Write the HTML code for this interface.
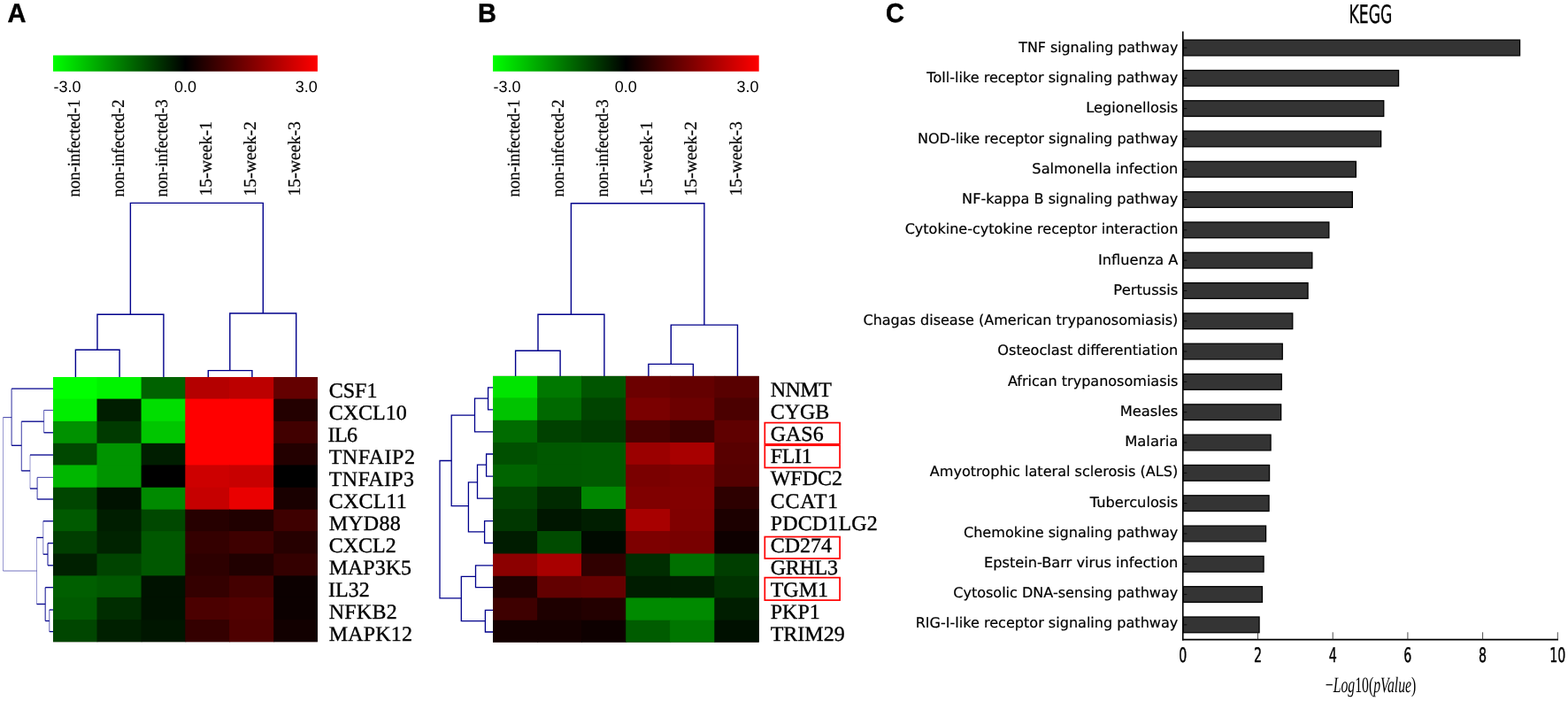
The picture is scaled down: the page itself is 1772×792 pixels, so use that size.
<!DOCTYPE html>
<html lang="en"><head><meta charset="utf-8"><title>Figure</title>
<style>
html,body{margin:0;padding:0;background:#fff;}
body{width:1772px;height:792px;overflow:hidden;}
svg{display:block;}
text{fill:#000;text-rendering:geometricPrecision;}
.pl{font-family:"Liberation Sans",Arial,sans-serif;font-weight:bold;font-size:29px;stroke:#000;stroke-width:0.4px;}
.cb{font-family:"Liberation Sans",Arial,sans-serif;font-size:18px;}
.cl{font-family:"Liberation Serif","Times New Roman",serif;font-size:19px;stroke:#000;stroke-width:0.2px;}
.gl{font-family:"Liberation Serif","Times New Roman",serif;font-size:24px;stroke:#000;stroke-width:0.35px;}
.yl{font-family:"DejaVu Sans","Liberation Sans",sans-serif;font-size:16px;text-anchor:end;stroke:#000;stroke-width:0.2px;}
.xt{font-family:"DejaVu Sans","Liberation Sans",sans-serif;font-size:22.6px;text-anchor:middle;stroke:#000;stroke-width:0.5px;}
.tt{font-family:"DejaVu Sans","Liberation Sans",sans-serif;font-size:28.4px;text-anchor:middle;stroke:#000;stroke-width:0.35px;}
.xl{font-family:"Liberation Serif","Times New Roman",serif;font-style:normal;font-size:25px;text-anchor:middle;}
</style></head><body>
<svg width="1772" height="792" viewBox="0 0 1772 792">
<defs><linearGradient id="gr" x1="0" y1="0" x2="1" y2="0"><stop offset="0" stop-color="#00ff00"/><stop offset="0.5" stop-color="#000"/><stop offset="1" stop-color="#ff0000"/></linearGradient></defs>
<rect x="0" y="0" width="1772" height="792" fill="#fff"/>
<g class="panel">
<text transform="translate(8.5 25.1) scale(1 1.045)" class="pl">A</text>
<rect x="60" y="62.5" width="298.90" height="18.2" fill="url(#gr)"/>
<text x="60.6" y="103.9" class="cb">-3.0</text>
<text x="209.45" y="103.9" class="cb" text-anchor="middle">0.0</text>
<text x="358.7" y="103.9" class="cb" text-anchor="end">3.0</text>
<text transform="translate(89.81 222.6) rotate(-90) scale(0.986 1.05)" class="cl">non-infected-1</text>
<text transform="translate(139.62 222.6) rotate(-90) scale(0.986 1.05)" class="cl">non-infected-2</text>
<text transform="translate(189.44 222.6) rotate(-90) scale(0.986 1.05)" class="cl">non-infected-3</text>
<text transform="translate(239.26 221.6) rotate(-90) scale(1.04 1.05)" class="cl">15-week-1</text>
<text transform="translate(289.07 221.6) rotate(-90) scale(1.04 1.05)" class="cl">15-week-2</text>
<text transform="translate(338.89 221.6) rotate(-90) scale(1.04 1.05)" class="cl">15-week-3</text>
<path d="M85.4 426V395.2H135.1V426 M110 395.2V355.2H184.9V426 M147.4 355.2V229.4H297.3V354 M259.8 418.6V354H334.7V426 M235.3 426V418.6H284.9V426" fill="none" stroke="#00008b" stroke-width="1.4" stroke-opacity="1"/>
<path d="M3.5 471.6V645" fill="none" stroke="#00008b" stroke-width="1.0" stroke-opacity="0.4"/>
<path d="M3.5 471.6H13.1" fill="none" stroke="#00008b" stroke-width="1.1" stroke-opacity="0.7"/>
<path d="M3.5 645H41.5" fill="none" stroke="#00008b" stroke-width="1.1" stroke-opacity="0.55"/>
<path d="M13.1 439.2V503.3" fill="none" stroke="#00008b" stroke-width="1.1" stroke-opacity="0.75"/>
<path d="M13.1 439.2H60" fill="none" stroke="#00008b" stroke-width="1.3" stroke-opacity="1"/>
<path d="M13.1 503.3H24.3" fill="none" stroke="#00008b" stroke-width="1.3" stroke-opacity="1"/>
<path d="M24.3 476.2V531.9" fill="none" stroke="#00008b" stroke-width="1.1" stroke-opacity="0.7"/>
<path d="M24.3 476.2H49.6" fill="none" stroke="#00008b" stroke-width="1.3" stroke-opacity="1"/>
<path d="M24.3 531.9H34" fill="none" stroke="#00008b" stroke-width="1.3" stroke-opacity="1"/>
<path d="M49.6 463.5V488.8" fill="none" stroke="#00008b" stroke-width="1.0" stroke-opacity="0.6"/>
<path d="M49.6 463.5H60" fill="none" stroke="#00008b" stroke-width="1.1" stroke-opacity="0.7"/>
<path d="M49.6 488.8H60" fill="none" stroke="#00008b" stroke-width="1.3" stroke-opacity="1"/>
<path d="M34 514V552" fill="none" stroke="#00008b" stroke-width="1.0" stroke-opacity="0.4"/>
<path d="M34 514H60" fill="none" stroke="#00008b" stroke-width="1.3" stroke-opacity="1"/>
<path d="M34 552H42.1" fill="none" stroke="#00008b" stroke-width="1.3" stroke-opacity="1"/>
<path d="M42.1 539.4V564" fill="none" stroke="#00008b" stroke-width="1.1" stroke-opacity="0.7"/>
<path d="M42.1 539.4H60" fill="none" stroke="#00008b" stroke-width="1.1" stroke-opacity="0.7"/>
<path d="M42.1 564H60" fill="none" stroke="#00008b" stroke-width="1.3" stroke-opacity="1"/>
<path d="M41.5 607.4V682.5" fill="none" stroke="#00008b" stroke-width="1.0" stroke-opacity="0.4"/>
<path d="M41.5 607.4H48.8" fill="none" stroke="#00008b" stroke-width="1.3" stroke-opacity="1"/>
<path d="M41.5 682.5H51.2" fill="none" stroke="#00008b" stroke-width="1.3" stroke-opacity="1"/>
<path d="M48.8 588.8V626.2" fill="none" stroke="#00008b" stroke-width="1.0" stroke-opacity="0.5"/>
<path d="M48.8 588.8H60" fill="none" stroke="#00008b" stroke-width="1.3" stroke-opacity="1"/>
<path d="M48.8 626.2H54" fill="none" stroke="#00008b" stroke-width="1.3" stroke-opacity="1"/>
<path d="M54 613.7V638.8" fill="none" stroke="#00008b" stroke-width="1.2" stroke-opacity="0.8"/>
<path d="M54 613.7H60" fill="none" stroke="#00008b" stroke-width="1.3" stroke-opacity="1"/>
<path d="M54 638.8H60" fill="none" stroke="#00008b" stroke-width="1.3" stroke-opacity="1"/>
<path d="M51.2 663.7V701.5" fill="none" stroke="#00008b" stroke-width="1.2" stroke-opacity="0.8"/>
<path d="M51.2 663.7H60" fill="none" stroke="#00008b" stroke-width="1.3" stroke-opacity="1"/>
<path d="M51.2 701.5H55.8" fill="none" stroke="#00008b" stroke-width="1.3" stroke-opacity="1"/>
<path d="M55.8 689V713.6" fill="none" stroke="#00008b" stroke-width="1.0" stroke-opacity="0.6"/>
<path d="M55.8 689H60" fill="none" stroke="#00008b" stroke-width="1.3" stroke-opacity="1"/>
<path d="M55.8 713.6H60" fill="none" stroke="#00008b" stroke-width="1.3" stroke-opacity="1"/>
<rect x="60.00" y="426.00" width="298.90" height="299.20" fill="#200"/>
<rect x="60.00" y="426.00" width="50.50" height="25.60" fill="rgb(0,255,0)"/>
<rect x="109.50" y="426.00" width="51.10" height="25.60" fill="rgb(0,243,0)"/>
<rect x="159.60" y="426.00" width="50.70" height="25.60" fill="rgb(0,98,0)"/>
<rect x="209.30" y="426.00" width="50.80" height="25.60" fill="rgb(180,0,0)"/>
<rect x="259.10" y="426.00" width="51.10" height="25.60" fill="rgb(188,0,0)"/>
<rect x="309.20" y="426.00" width="49.70" height="25.60" fill="rgb(100,0,0)"/>
<rect x="60.00" y="450.60" width="50.50" height="26.30" fill="rgb(0,238,0)"/>
<rect x="109.50" y="450.60" width="51.10" height="26.30" fill="rgb(0,30,0)"/>
<rect x="159.60" y="450.60" width="50.70" height="26.30" fill="rgb(0,222,0)"/>
<rect x="209.30" y="450.60" width="50.80" height="26.30" fill="rgb(255,0,0)"/>
<rect x="259.10" y="450.60" width="51.10" height="26.30" fill="rgb(255,0,0)"/>
<rect x="309.20" y="450.60" width="49.70" height="26.30" fill="rgb(35,0,0)"/>
<rect x="60.00" y="475.90" width="50.50" height="25.90" fill="rgb(0,145,0)"/>
<rect x="109.50" y="475.90" width="51.10" height="25.90" fill="rgb(0,58,0)"/>
<rect x="159.60" y="475.90" width="50.70" height="25.90" fill="rgb(0,198,0)"/>
<rect x="209.30" y="475.90" width="50.80" height="25.90" fill="rgb(255,0,0)"/>
<rect x="259.10" y="475.90" width="51.10" height="25.90" fill="rgb(255,0,0)"/>
<rect x="309.20" y="475.90" width="49.70" height="25.90" fill="rgb(65,0,0)"/>
<rect x="60.00" y="500.80" width="50.50" height="25.60" fill="rgb(0,72,0)"/>
<rect x="109.50" y="500.80" width="51.10" height="25.60" fill="rgb(0,148,0)"/>
<rect x="159.60" y="500.80" width="50.70" height="25.60" fill="rgb(0,30,0)"/>
<rect x="209.30" y="500.80" width="50.80" height="25.60" fill="rgb(255,0,0)"/>
<rect x="259.10" y="500.80" width="51.10" height="25.60" fill="rgb(255,0,0)"/>
<rect x="309.20" y="500.80" width="49.70" height="25.60" fill="rgb(35,0,0)"/>
<rect x="60.00" y="525.40" width="50.50" height="26.30" fill="rgb(0,183,0)"/>
<rect x="109.50" y="525.40" width="51.10" height="26.30" fill="rgb(0,148,0)"/>
<rect x="159.60" y="525.40" width="50.70" height="26.30" fill="rgb(0,0,0)"/>
<rect x="209.30" y="525.40" width="50.80" height="26.30" fill="rgb(205,0,0)"/>
<rect x="259.10" y="525.40" width="51.10" height="26.30" fill="rgb(200,0,0)"/>
<rect x="309.20" y="525.40" width="49.70" height="26.30" fill="rgb(0,0,0)"/>
<rect x="60.00" y="550.70" width="50.50" height="25.90" fill="rgb(0,70,0)"/>
<rect x="109.50" y="550.70" width="51.10" height="25.90" fill="rgb(0,18,0)"/>
<rect x="159.60" y="550.70" width="50.70" height="25.90" fill="rgb(0,138,0)"/>
<rect x="209.30" y="550.70" width="50.80" height="25.90" fill="rgb(198,0,0)"/>
<rect x="259.10" y="550.70" width="51.10" height="25.90" fill="rgb(234,0,0)"/>
<rect x="309.20" y="550.70" width="49.70" height="25.90" fill="rgb(25,0,0)"/>
<rect x="60.00" y="575.60" width="50.50" height="25.50" fill="rgb(0,90,0)"/>
<rect x="109.50" y="575.60" width="51.10" height="25.50" fill="rgb(0,30,0)"/>
<rect x="159.60" y="575.60" width="50.70" height="25.50" fill="rgb(0,72,0)"/>
<rect x="209.30" y="575.60" width="50.80" height="25.50" fill="rgb(38,0,0)"/>
<rect x="259.10" y="575.60" width="51.10" height="25.50" fill="rgb(32,0,0)"/>
<rect x="309.20" y="575.60" width="49.70" height="25.50" fill="rgb(62,0,0)"/>
<rect x="60.00" y="600.10" width="50.50" height="26.40" fill="rgb(0,62,0)"/>
<rect x="109.50" y="600.10" width="51.10" height="26.40" fill="rgb(0,35,0)"/>
<rect x="159.60" y="600.10" width="50.70" height="26.40" fill="rgb(0,88,0)"/>
<rect x="209.30" y="600.10" width="50.80" height="26.40" fill="rgb(52,0,0)"/>
<rect x="259.10" y="600.10" width="51.10" height="26.40" fill="rgb(62,0,0)"/>
<rect x="309.20" y="600.10" width="49.70" height="26.40" fill="rgb(38,0,0)"/>
<rect x="60.00" y="625.50" width="50.50" height="25.90" fill="rgb(0,32,0)"/>
<rect x="109.50" y="625.50" width="51.10" height="25.90" fill="rgb(0,68,0)"/>
<rect x="159.60" y="625.50" width="50.70" height="25.90" fill="rgb(0,88,0)"/>
<rect x="209.30" y="625.50" width="50.80" height="25.90" fill="rgb(45,0,0)"/>
<rect x="259.10" y="625.50" width="51.10" height="25.90" fill="rgb(32,0,0)"/>
<rect x="309.20" y="625.50" width="49.70" height="25.90" fill="rgb(52,0,0)"/>
<rect x="60.00" y="650.40" width="50.50" height="25.50" fill="rgb(0,95,0)"/>
<rect x="109.50" y="650.40" width="51.10" height="25.50" fill="rgb(0,88,0)"/>
<rect x="159.60" y="650.40" width="50.70" height="25.50" fill="rgb(0,18,0)"/>
<rect x="209.30" y="650.40" width="50.80" height="25.50" fill="rgb(52,0,0)"/>
<rect x="259.10" y="650.40" width="51.10" height="25.50" fill="rgb(68,0,0)"/>
<rect x="309.20" y="650.40" width="49.70" height="25.50" fill="rgb(12,0,0)"/>
<rect x="60.00" y="674.90" width="50.50" height="26.20" fill="rgb(0,90,0)"/>
<rect x="109.50" y="674.90" width="51.10" height="26.20" fill="rgb(0,45,0)"/>
<rect x="159.60" y="674.90" width="50.70" height="26.20" fill="rgb(0,18,0)"/>
<rect x="209.30" y="674.90" width="50.80" height="26.20" fill="rgb(75,0,0)"/>
<rect x="259.10" y="674.90" width="51.10" height="26.20" fill="rgb(82,0,0)"/>
<rect x="309.20" y="674.90" width="49.70" height="26.20" fill="rgb(12,0,0)"/>
<rect x="60.00" y="700.10" width="50.50" height="25.10" fill="rgb(0,70,0)"/>
<rect x="109.50" y="700.10" width="51.10" height="25.10" fill="rgb(0,32,0)"/>
<rect x="159.60" y="700.10" width="50.70" height="25.10" fill="rgb(0,22,0)"/>
<rect x="209.30" y="700.10" width="50.80" height="25.10" fill="rgb(52,0,0)"/>
<rect x="259.10" y="700.10" width="51.10" height="25.10" fill="rgb(78,0,0)"/>
<rect x="309.20" y="700.10" width="49.70" height="25.10" fill="rgb(18,0,0)"/>
<text transform="translate(371.70 449.20) scale(1 0.99)" class="gl">CSF1</text>
<text transform="translate(371.70 474.13) scale(1 0.99)" class="gl">CXCL10</text>
<text transform="translate(370.40 499.07) scale(1 0.99)" class="gl" letter-spacing="-0.5">IL6</text>
<text transform="translate(371.70 524.00) scale(1 0.99)" class="gl" letter-spacing="0.5">TNFAIP2</text>
<text transform="translate(371.70 548.93) scale(1 0.99)" class="gl" letter-spacing="0.35">TNFAIP3</text>
<text transform="translate(371.70 573.87) scale(1 0.99)" class="gl" letter-spacing="0.2">CXCL11</text>
<text transform="translate(371.70 598.80) scale(1 0.99)" class="gl" letter-spacing="0.25">MYD88</text>
<text transform="translate(371.70 623.93) scale(1 0.99)" class="gl">CXCL2</text>
<text transform="translate(371.70 649.07) scale(1 0.99)" class="gl">MAP3K5</text>
<text transform="translate(371.10 674.20) scale(1 0.99)" class="gl">IL32</text>
<text transform="translate(371.70 699.33) scale(1 0.99)" class="gl" letter-spacing="0.25">NFKB2</text>
<text transform="translate(371.70 724.47) scale(1 0.99)" class="gl" letter-spacing="0.2">MAPK12</text>
</g>
<g class="panel">
<text transform="translate(540 25.1) scale(1 1.045)" class="pl">B</text>
<rect x="557" y="62.5" width="300.70" height="18.2" fill="url(#gr)"/>
<text x="557.6" y="103.9" class="cb">-3.0</text>
<text x="707.35" y="103.9" class="cb" text-anchor="middle">0.0</text>
<text x="857.5" y="103.9" class="cb" text-anchor="end">3.0</text>
<text transform="translate(586.96 222.6) rotate(-90) scale(0.986 1.05)" class="cl">non-infected-1</text>
<text transform="translate(637.07 222.6) rotate(-90) scale(0.986 1.05)" class="cl">non-infected-2</text>
<text transform="translate(687.19 222.6) rotate(-90) scale(0.986 1.05)" class="cl">non-infected-3</text>
<text transform="translate(737.31 221.6) rotate(-90) scale(1.04 1.05)" class="cl">15-week-1</text>
<text transform="translate(787.43 221.6) rotate(-90) scale(1.04 1.05)" class="cl">15-week-2</text>
<text transform="translate(837.54 221.6) rotate(-90) scale(1.04 1.05)" class="cl">15-week-3</text>
<path d="M582.6 426V396.3H633.1V426 M608 396.3V355.2H682.9V426 M645.4 355.2V229.8H795.9V367.1 M758.3 411.4V367.1H833.5V426 M732.9 426V411.4H783.4V426" fill="none" stroke="#00008b" stroke-width="1.4" stroke-opacity="1"/>
<path d="M557.5 437.8H551.6V462.9H557.5" fill="none" stroke="#00008b" stroke-width="1.3" stroke-opacity="1"/>
<path d="M551.6 450.1H536.5V487.8H557.5" fill="none" stroke="#00008b" stroke-width="1.3" stroke-opacity="1"/>
<path d="M536.5 469.2H510.2V571.7H529.4" fill="none" stroke="#00008b" stroke-width="1.3" stroke-opacity="1"/>
<path d="M557.5 513H549.6V538.1H557.5" fill="none" stroke="#00008b" stroke-width="1.3" stroke-opacity="1"/>
<path d="M549.6 525.2H539.5V563.2H557.5" fill="none" stroke="#00008b" stroke-width="1.3" stroke-opacity="1"/>
<path d="M539.5 544.8H529.4V600.8H547.6" fill="none" stroke="#00008b" stroke-width="1.3" stroke-opacity="1"/>
<path d="M557.5 588.6H547.6V613.5H557.5" fill="none" stroke="#00008b" stroke-width="1.3" stroke-opacity="1"/>
<path d="M510.2 520.5H497V675.8H521.3" fill="none" stroke="#00008b" stroke-width="1.3" stroke-opacity="1"/>
<path d="M557.5 638.8H537.5V663.7H557.5" fill="none" stroke="#00008b" stroke-width="1.3" stroke-opacity="1"/>
<path d="M537.5 651.3H521.3V701.7H548.4" fill="none" stroke="#00008b" stroke-width="1.3" stroke-opacity="1"/>
<path d="M557.5 689.4H548.4V714H557.5" fill="none" stroke="#00008b" stroke-width="1.3" stroke-opacity="1"/>
<rect x="557.00" y="424.90" width="300.70" height="300.70" fill="#200"/>
<rect x="557.00" y="424.90" width="51.10" height="25.50" fill="rgb(0,228,0)"/>
<rect x="607.10" y="424.90" width="50.90" height="25.50" fill="rgb(0,120,0)"/>
<rect x="657.00" y="424.90" width="51.20" height="25.50" fill="rgb(0,85,0)"/>
<rect x="707.20" y="424.90" width="50.90" height="25.50" fill="rgb(108,0,0)"/>
<rect x="757.10" y="424.90" width="51.20" height="25.50" fill="rgb(100,0,0)"/>
<rect x="807.30" y="424.90" width="50.40" height="25.50" fill="rgb(88,0,0)"/>
<rect x="557.00" y="449.40" width="51.10" height="26.40" fill="rgb(0,195,0)"/>
<rect x="607.10" y="449.40" width="50.90" height="26.40" fill="rgb(0,105,0)"/>
<rect x="657.00" y="449.40" width="51.20" height="26.40" fill="rgb(0,68,0)"/>
<rect x="707.20" y="449.40" width="50.90" height="26.40" fill="rgb(122,0,0)"/>
<rect x="757.10" y="449.40" width="51.20" height="26.40" fill="rgb(108,0,0)"/>
<rect x="807.30" y="449.40" width="50.40" height="26.40" fill="rgb(75,0,0)"/>
<rect x="557.00" y="474.80" width="51.10" height="26.10" fill="rgb(0,108,0)"/>
<rect x="607.10" y="474.80" width="50.90" height="26.10" fill="rgb(0,65,0)"/>
<rect x="657.00" y="474.80" width="51.20" height="26.10" fill="rgb(0,58,0)"/>
<rect x="707.20" y="474.80" width="50.90" height="26.10" fill="rgb(72,0,0)"/>
<rect x="757.10" y="474.80" width="51.20" height="26.10" fill="rgb(60,0,0)"/>
<rect x="807.30" y="474.80" width="50.40" height="26.10" fill="rgb(95,0,0)"/>
<rect x="557.00" y="499.90" width="51.10" height="25.90" fill="rgb(0,80,0)"/>
<rect x="607.10" y="499.90" width="50.90" height="25.90" fill="rgb(0,88,0)"/>
<rect x="657.00" y="499.90" width="51.20" height="25.90" fill="rgb(0,90,0)"/>
<rect x="707.20" y="499.90" width="50.90" height="25.90" fill="rgb(155,0,0)"/>
<rect x="757.10" y="499.90" width="51.20" height="25.90" fill="rgb(168,0,0)"/>
<rect x="807.30" y="499.90" width="50.40" height="25.90" fill="rgb(88,0,0)"/>
<rect x="557.00" y="524.80" width="51.10" height="26.00" fill="rgb(0,100,0)"/>
<rect x="607.10" y="524.80" width="50.90" height="26.00" fill="rgb(0,88,0)"/>
<rect x="657.00" y="524.80" width="51.20" height="26.00" fill="rgb(0,90,0)"/>
<rect x="707.20" y="524.80" width="50.90" height="26.00" fill="rgb(122,0,0)"/>
<rect x="757.10" y="524.80" width="51.20" height="26.00" fill="rgb(128,0,0)"/>
<rect x="807.30" y="524.80" width="50.40" height="26.00" fill="rgb(85,0,0)"/>
<rect x="557.00" y="549.80" width="51.10" height="26.20" fill="rgb(0,68,0)"/>
<rect x="607.10" y="549.80" width="50.90" height="26.20" fill="rgb(0,42,0)"/>
<rect x="657.00" y="549.80" width="51.20" height="26.20" fill="rgb(0,135,0)"/>
<rect x="707.20" y="549.80" width="50.90" height="26.20" fill="rgb(128,0,0)"/>
<rect x="757.10" y="549.80" width="51.20" height="26.20" fill="rgb(130,0,0)"/>
<rect x="807.30" y="549.80" width="50.40" height="26.20" fill="rgb(45,0,0)"/>
<rect x="557.00" y="575.00" width="51.10" height="26.00" fill="rgb(0,55,0)"/>
<rect x="607.10" y="575.00" width="50.90" height="26.00" fill="rgb(0,22,0)"/>
<rect x="657.00" y="575.00" width="51.20" height="26.00" fill="rgb(0,30,0)"/>
<rect x="707.20" y="575.00" width="50.90" height="26.00" fill="rgb(168,0,0)"/>
<rect x="757.10" y="575.00" width="51.20" height="26.00" fill="rgb(128,0,0)"/>
<rect x="807.30" y="575.00" width="50.40" height="26.00" fill="rgb(28,0,0)"/>
<rect x="557.00" y="600.00" width="51.10" height="26.50" fill="rgb(0,28,0)"/>
<rect x="607.10" y="600.00" width="50.90" height="26.50" fill="rgb(0,75,0)"/>
<rect x="657.00" y="600.00" width="51.20" height="26.50" fill="rgb(0,10,0)"/>
<rect x="707.20" y="600.00" width="50.90" height="26.50" fill="rgb(125,0,0)"/>
<rect x="757.10" y="600.00" width="51.20" height="26.50" fill="rgb(120,0,0)"/>
<rect x="807.30" y="600.00" width="50.40" height="26.50" fill="rgb(14,0,0)"/>
<rect x="557.00" y="625.50" width="51.10" height="26.30" fill="rgb(140,0,0)"/>
<rect x="607.10" y="625.50" width="50.90" height="26.30" fill="rgb(168,0,0)"/>
<rect x="657.00" y="625.50" width="51.20" height="26.30" fill="rgb(48,0,0)"/>
<rect x="707.20" y="625.50" width="50.90" height="26.30" fill="rgb(0,45,0)"/>
<rect x="757.10" y="625.50" width="51.20" height="26.30" fill="rgb(0,112,0)"/>
<rect x="807.30" y="625.50" width="50.40" height="26.30" fill="rgb(0,62,0)"/>
<rect x="557.00" y="650.80" width="51.10" height="25.60" fill="rgb(32,0,0)"/>
<rect x="607.10" y="650.80" width="50.90" height="25.60" fill="rgb(98,0,0)"/>
<rect x="657.00" y="650.80" width="51.20" height="25.60" fill="rgb(102,0,0)"/>
<rect x="707.20" y="650.80" width="50.90" height="25.60" fill="rgb(0,28,0)"/>
<rect x="757.10" y="650.80" width="51.20" height="25.60" fill="rgb(0,30,0)"/>
<rect x="807.30" y="650.80" width="50.40" height="25.60" fill="rgb(0,50,0)"/>
<rect x="557.00" y="675.40" width="51.10" height="26.30" fill="rgb(62,0,0)"/>
<rect x="607.10" y="675.40" width="50.90" height="26.30" fill="rgb(30,0,0)"/>
<rect x="657.00" y="675.40" width="51.20" height="26.30" fill="rgb(35,0,0)"/>
<rect x="707.20" y="675.40" width="50.90" height="26.30" fill="rgb(0,138,0)"/>
<rect x="757.10" y="675.40" width="51.20" height="26.30" fill="rgb(0,138,0)"/>
<rect x="807.30" y="675.40" width="50.40" height="26.30" fill="rgb(0,30,0)"/>
<rect x="557.00" y="700.70" width="51.10" height="24.90" fill="rgb(20,0,0)"/>
<rect x="607.10" y="700.70" width="50.90" height="24.90" fill="rgb(20,0,0)"/>
<rect x="657.00" y="700.70" width="51.20" height="24.90" fill="rgb(14,0,0)"/>
<rect x="707.20" y="700.70" width="50.90" height="24.90" fill="rgb(0,92,0)"/>
<rect x="757.10" y="700.70" width="51.20" height="24.90" fill="rgb(0,118,0)"/>
<rect x="807.30" y="700.70" width="50.40" height="24.90" fill="rgb(0,16,0)"/>
<text transform="translate(870.70 447.80) scale(1 0.99)" class="gl" letter-spacing="-0.5">NNMT</text>
<text transform="translate(870.70 472.95) scale(1 0.99)" class="gl">CYGB</text>
<text transform="translate(870.70 498.10) scale(1 0.99)" class="gl">GAS6</text>
<text transform="translate(870.70 523.25) scale(1 0.99)" class="gl" letter-spacing="-0.3">FLI1</text>
<text transform="translate(870.70 548.39) scale(1 0.99)" class="gl">WFDC2</text>
<text transform="translate(870.70 573.54) scale(1 0.99)" class="gl" letter-spacing="0.75">CCAT1</text>
<text transform="translate(870.70 598.69) scale(1 0.99)" class="gl" letter-spacing="0.15">PDCD1LG2</text>
<text transform="translate(870.70 623.84) scale(1 0.99)" class="gl">CD274</text>
<text transform="translate(870.70 648.99) scale(1 0.99)" class="gl" letter-spacing="-0.25">GRHL3</text>
<text transform="translate(870.70 674.13) scale(1 0.99)" class="gl">TGM1</text>
<text transform="translate(870.70 699.28) scale(1 0.99)" class="gl">PKP1</text>
<text transform="translate(870.70 724.43) scale(1 0.99)" class="gl">TRIM29</text>
<rect x="864.3" y="477.6" width="84.8" height="24.2" fill="none" stroke="#ff0000" stroke-width="1.7"/>
<rect x="864.3" y="503.2" width="84.8" height="25.2" fill="none" stroke="#ff0000" stroke-width="1.7"/>
<rect x="864.3" y="606.5" width="84.8" height="24.5" fill="none" stroke="#ff0000" stroke-width="1.7"/>
<rect x="864.3" y="652.6" width="84.8" height="25.5" fill="none" stroke="#ff0000" stroke-width="1.7"/>
</g>
<g class="panel">
<text transform="translate(1001 25.1) scale(1 1.045)" class="pl">C</text>
<rect x="1336.8" y="45.15" width="380.75" height="17.7" fill="#343434" stroke="#000" stroke-width="1.3"/>
<path d="M1336.8 54.00h4.5" stroke="#000" stroke-width="0.8" fill="none"/>
<text transform="translate(1331.3 59.00) scale(0.9898 1)" class="yl">TNF signaling pathway</text>
<rect x="1336.8" y="79.46" width="243.75" height="17.7" fill="#343434" stroke="#000" stroke-width="1.3"/>
<path d="M1336.8 88.31h4.5" stroke="#000" stroke-width="0.8" fill="none"/>
<text transform="translate(1331.3 93.23) scale(1.0050 1)" class="yl">Toll-like receptor signaling pathway</text>
<rect x="1336.8" y="113.77" width="226.95" height="17.7" fill="#343434" stroke="#000" stroke-width="1.3"/>
<path d="M1336.8 122.62h4.5" stroke="#000" stroke-width="0.8" fill="none"/>
<text transform="translate(1331.3 127.47) scale(1.0129 1)" class="yl">Legionellosis</text>
<rect x="1336.8" y="148.08" width="223.85" height="17.7" fill="#343434" stroke="#000" stroke-width="1.3"/>
<path d="M1336.8 156.93h4.5" stroke="#000" stroke-width="0.8" fill="none"/>
<text transform="translate(1331.3 161.71) scale(1.0025 1)" class="yl">NOD-like receptor signaling pathway</text>
<rect x="1336.8" y="182.39" width="195.55" height="17.7" fill="#343434" stroke="#000" stroke-width="1.3"/>
<path d="M1336.8 191.24h4.5" stroke="#000" stroke-width="0.8" fill="none"/>
<text transform="translate(1331.3 195.94) scale(1.0115 1)" class="yl">Salmonella infection</text>
<rect x="1336.8" y="216.70" width="191.55" height="17.7" fill="#343434" stroke="#000" stroke-width="1.3"/>
<path d="M1336.8 225.55h4.5" stroke="#000" stroke-width="0.8" fill="none"/>
<text transform="translate(1331.3 230.18) scale(1.0053 1)" class="yl">NF-kappa B signaling pathway</text>
<rect x="1336.8" y="251.01" width="165.05" height="17.7" fill="#343434" stroke="#000" stroke-width="1.3"/>
<path d="M1336.8 259.86h4.5" stroke="#000" stroke-width="0.8" fill="none"/>
<text transform="translate(1331.3 264.41) scale(1.0007 1)" class="yl">Cytokine-cytokine receptor interaction</text>
<rect x="1336.8" y="285.32" width="146.05" height="17.7" fill="#343434" stroke="#000" stroke-width="1.3"/>
<path d="M1336.8 294.17h4.5" stroke="#000" stroke-width="0.8" fill="none"/>
<text transform="translate(1331.3 298.65) scale(1.0112 1)" class="yl">Influenza A</text>
<rect x="1336.8" y="319.63" width="141.25" height="17.7" fill="#343434" stroke="#000" stroke-width="1.3"/>
<path d="M1336.8 328.48h4.5" stroke="#000" stroke-width="0.8" fill="none"/>
<text transform="translate(1331.3 332.88) scale(1.0219 1)" class="yl">Pertussis</text>
<rect x="1336.8" y="353.94" width="123.95" height="17.7" fill="#343434" stroke="#000" stroke-width="1.3"/>
<path d="M1336.8 362.79h4.5" stroke="#000" stroke-width="0.8" fill="none"/>
<text transform="translate(1331.3 367.12) scale(1.0014 1)" class="yl">Chagas disease (American trypanosomiasis)</text>
<rect x="1336.8" y="388.25" width="112.45" height="17.7" fill="#343434" stroke="#000" stroke-width="1.3"/>
<path d="M1336.8 397.10h4.5" stroke="#000" stroke-width="0.8" fill="none"/>
<text transform="translate(1331.3 401.35) scale(1.0078 1)" class="yl">Osteoclast differentiation</text>
<rect x="1336.8" y="422.56" width="111.45" height="17.7" fill="#343434" stroke="#000" stroke-width="1.3"/>
<path d="M1336.8 431.41h4.5" stroke="#000" stroke-width="0.8" fill="none"/>
<text transform="translate(1331.3 435.59) scale(1.0013 1)" class="yl">African trypanosomiasis</text>
<rect x="1336.8" y="456.87" width="110.85" height="17.7" fill="#343434" stroke="#000" stroke-width="1.3"/>
<path d="M1336.8 465.72h4.5" stroke="#000" stroke-width="0.8" fill="none"/>
<text transform="translate(1331.3 469.82) scale(1.0187 1)" class="yl">Measles</text>
<rect x="1336.8" y="491.18" width="99.25" height="17.7" fill="#343434" stroke="#000" stroke-width="1.3"/>
<path d="M1336.8 500.03h4.5" stroke="#000" stroke-width="0.8" fill="none"/>
<text transform="translate(1331.3 504.06) scale(1.0249 1)" class="yl">Malaria</text>
<rect x="1336.8" y="525.49" width="97.75" height="17.7" fill="#343434" stroke="#000" stroke-width="1.3"/>
<path d="M1336.8 534.34h4.5" stroke="#000" stroke-width="0.8" fill="none"/>
<text transform="translate(1331.3 538.29) scale(1.0051 1)" class="yl">Amyotrophic lateral sclerosis (ALS)</text>
<rect x="1336.8" y="559.80" width="97.25" height="17.7" fill="#343434" stroke="#000" stroke-width="1.3"/>
<path d="M1336.8 568.65h4.5" stroke="#000" stroke-width="0.8" fill="none"/>
<text transform="translate(1331.3 572.53) scale(1.0156 1)" class="yl">Tuberculosis</text>
<rect x="1336.8" y="594.11" width="93.75" height="17.7" fill="#343434" stroke="#000" stroke-width="1.3"/>
<path d="M1336.8 602.96h4.5" stroke="#000" stroke-width="0.8" fill="none"/>
<text transform="translate(1331.3 606.76) scale(1.0049 1)" class="yl">Chemokine signaling pathway</text>
<rect x="1336.8" y="628.42" width="91.25" height="17.7" fill="#343434" stroke="#000" stroke-width="1.3"/>
<path d="M1336.8 637.27h4.5" stroke="#000" stroke-width="0.8" fill="none"/>
<text transform="translate(1331.3 641.00) scale(1.0116 1)" class="yl">Epstein-Barr virus infection</text>
<rect x="1336.8" y="662.73" width="89.65" height="17.7" fill="#343434" stroke="#000" stroke-width="1.3"/>
<path d="M1336.8 671.58h4.5" stroke="#000" stroke-width="0.8" fill="none"/>
<text transform="translate(1331.3 675.23) scale(1.0024 1)" class="yl">Cytosolic DNA-sensing pathway</text>
<rect x="1336.8" y="697.04" width="86.25" height="17.7" fill="#343434" stroke="#000" stroke-width="1.3"/>
<path d="M1336.8 705.89h4.5" stroke="#000" stroke-width="0.8" fill="none"/>
<text transform="translate(1331.3 709.47) scale(1.0038 1)" class="yl">RIG-I-like receptor signaling pathway</text>
<path d="M1336.8 35.4V723.5" fill="none" stroke="#000" stroke-width="1.6"/>
<path d="M1336.0 722.6H1761.0" fill="none" stroke="#000" stroke-width="1.9"/>
<text transform="translate(1336.80 748.3) scale(0.63 1)" class="xt">0</text>
<path d="M1421.50 722.6v-8.3" stroke="#222" stroke-width="0.8" fill="none"/>
<text transform="translate(1421.50 748.3) scale(0.63 1)" class="xt">2</text>
<path d="M1506.20 722.6v-8.3" stroke="#222" stroke-width="0.8" fill="none"/>
<text transform="translate(1506.20 748.3) scale(0.63 1)" class="xt">4</text>
<path d="M1590.90 722.6v-8.3" stroke="#222" stroke-width="0.8" fill="none"/>
<text transform="translate(1590.90 748.3) scale(0.63 1)" class="xt">6</text>
<path d="M1675.60 722.6v-8.3" stroke="#222" stroke-width="0.8" fill="none"/>
<text transform="translate(1675.60 748.3) scale(0.63 1)" class="xt">8</text>
<path d="M1760.30 722.6v-8.3" stroke="#222" stroke-width="0.8" fill="none"/>
<text transform="translate(1760.30 748.3) scale(0.63 1)" class="xt">10</text>
<text transform="translate(1548.9 26.2) scale(0.605 1)" class="tt">KEGG</text>
<text transform="translate(1549 781.9) scale(0.63 1)" class="xl">−<tspan font-style="italic">Log</tspan>10(<tspan font-style="italic">pValue</tspan>)</text>
</g>
</svg></body></html>
